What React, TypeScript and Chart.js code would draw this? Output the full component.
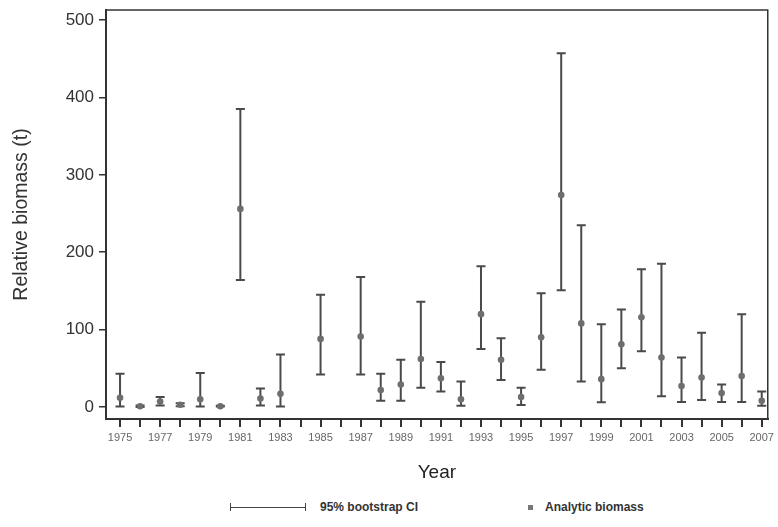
import React, { useEffect, useRef } from 'react';
import { Chart, registerables } from 'chart.js';

Chart.register(...registerables);

// ---- data ----
const years = [1975, 1976, 1977, 1978, 1979, 1980, 1981, 1982, 1983, 1985, 1987, 1988, 1989, 1990, 1991, 1992, 1993, 1994, 1995, 1996, 1997, 1998, 1999, 2000, 2001, 2002, 2003, 2004, 2005, 2006, 2007];
const biomass = [12, 1, 7, 3, 10, 1, 256, 11, 17, 88, 91, 22, 29, 62, 37, 10, 120, 61, 13, 90, 274, 108, 36, 81, 116, 64, 27, 38, 18, 40, 8];
const lowerCI = [0.5, 0, 2, 1, 0.5, 0.5, 164, 2, 0.5, 42, 42, 8, 8, 25, 20, 1.5, 75, 35, 2.5, 48, 151, 33, 6, 50, 72, 14, 6.5, 9, 6.5, 6.5, 1.5];
const upperCI = [43, 2, 13, 5, 44, 1.5, 385, 24, 68, 145, 168, 43, 61, 136, 58, 33, 182, 89, 25, 147, 457, 235, 107, 126, 178, 185, 64, 96, 29, 120, 20];

const xLabelYears = [1975, 1977, 1979, 1981, 1983, 1985, 1987, 1989, 1991, 1993, 1995, 1997, 1999, 2001, 2003, 2005, 2007];
const yTickValues = [0, 100, 200, 300, 400, 500];

const FONT = "'Liberation Sans', Arial, sans-serif";

const errorBarPlugin = {
  id: 'errorBars',
  beforeDatasetsDraw(chart: any) {
    const { ctx, scales } = chart;
    const x = scales.x;
    const y = scales.y;
    ctx.save();
    ctx.strokeStyle = '#4a4a4a';
    ctx.lineWidth = 2;
    const cap = 4.5;
    years.forEach((yr, i) => {
      const px = x.getPixelForValue(yr);
      const top = y.getPixelForValue(upperCI[i]);
      const bot = y.getPixelForValue(lowerCI[i]);
      ctx.beginPath();
      ctx.moveTo(px, top);
      ctx.lineTo(px, bot);
      ctx.moveTo(px - cap, top);
      ctx.lineTo(px + cap, top);
      ctx.moveTo(px - cap, bot);
      ctx.lineTo(px + cap, bot);
      ctx.stroke();
    });
    ctx.restore();
  },
};

const framePlugin = {
  id: 'frame',
  afterDraw(chart: any) {
    const { ctx, chartArea } = chart;
    ctx.save();
    ctx.strokeStyle = '#333';
    ctx.lineWidth = 1.5;
    ctx.beginPath();
    ctx.moveTo(chartArea.left, chartArea.top);
    ctx.lineTo(chartArea.right, chartArea.top);
    ctx.lineTo(chartArea.right, chartArea.bottom);
    ctx.stroke();
    ctx.restore();
  },
};

export default function App() {
  const canvasRef = useRef<HTMLCanvasElement | null>(null);

  useEffect(() => {
    if (!canvasRef.current) return;
    const chart = new Chart(canvasRef.current, {
      type: 'scatter',
      data: {
        datasets: [
          {
            label: 'Analytic biomass',
            data: years.map((yr, i) => ({ x: yr, y: biomass[i] })),
            pointRadius: 3.3,
            pointHoverRadius: 3.3,
            backgroundColor: '#6e6e6e',
            borderWidth: 0,
          },
        ],
      },
      options: {
        animation: false,
        responsive: true,
        maintainAspectRatio: false,
        layout: { padding: { left: 0, right: 2, top: 10, bottom: 0 } },
        plugins: { legend: { display: false }, tooltip: { enabled: false } },
        scales: {
          x: {
            type: 'linear',
            min: 1974.3,
            max: 2007.3,
            afterBuildTicks: (s: any) => {
              const t = [];
              for (let v = 1975; v <= 2007; v++) t.push({ value: v });
              s.ticks = t;
            },
            afterFit: (s: any) => {
              s.height = 71;
            },
            border: { display: true, color: '#333', width: 2 },
            grid: { drawOnChartArea: false, drawTicks: true, tickLength: 8, color: '#333', lineWidth: 2 },
            ticks: {
              autoSkip: false,
              maxRotation: 0,
              padding: 4,
              color: '#666',
              font: { size: 11, family: FONT },
              callback: (v: any) => (xLabelYears.includes(Number(v)) ? String(v) : ''),
            },
            title: {
              display: true,
              text: 'Year',
              color: '#222',
              font: { size: 19, family: FONT },
              padding: { top: 0, bottom: 6 },
            },
          },
          y: {
            type: 'linear',
            min: -15.5,
            max: 513,
            afterBuildTicks: (s: any) => {
              s.ticks = yTickValues.map((v) => ({ value: v }));
            },
            afterFit: (s: any) => {
              s.width = 106;
              s.paddingTop = 0;
              s.paddingBottom = 0;
            },
            border: { display: true, color: '#333', width: 2 },
            grid: { drawOnChartArea: false, drawTicks: true, tickLength: 7, color: '#333', lineWidth: 1.5 },
            ticks: {
              padding: 5,
              color: '#333',
              font: { size: 17, family: FONT },
              callback: (v: any) => String(v),
            },
            title: {
              display: true,
              text: 'Relative biomass (t)',
              color: '#333',
              font: { size: 19.5, family: FONT },
              padding: { top: 10, bottom: 0 },
            },
          },
        },
      },
      plugins: [errorBarPlugin, framePlugin],
    });
    return () => chart.destroy();
  }, []);

  return (
    <div style={{ position: 'absolute', left: 0, top: 0, width: 778, height: 527, background: '#fff', overflow: 'hidden' }}>
      <div style={{ position: 'absolute', left: 0, top: 0, width: 778, height: 490 }}>
        <canvas ref={canvasRef} />
      </div>
      {/* legend */}
      <div style={{ position: 'absolute', left: 230, top: 507, width: 76, height: 0, borderTop: '1.5px solid #444' }} />
      <div style={{ position: 'absolute', left: 230, top: 503, width: 0, height: 8, borderLeft: '1.5px solid #444' }} />
      <div style={{ position: 'absolute', left: 305, top: 503, width: 0, height: 8, borderLeft: '1.5px solid #444' }} />
      <div
        style={{
          position: 'absolute',
          left: 320,
          top: 499,
          fontFamily: FONT,
          fontSize: 12,
          fontWeight: 'bold',
          color: '#333',
          lineHeight: '16px',
          whiteSpace: 'nowrap',
        }}
      >
        95% bootstrap CI
      </div>
      <div style={{ position: 'absolute', left: 528, top: 505, width: 5, height: 5, background: '#777' }} />
      <div
        style={{
          position: 'absolute',
          left: 545,
          top: 499,
          fontFamily: FONT,
          fontSize: 12,
          fontWeight: 'bold',
          color: '#333',
          lineHeight: '16px',
          whiteSpace: 'nowrap',
        }}
      >
        Analytic biomass
      </div>
    </div>
  );
}
